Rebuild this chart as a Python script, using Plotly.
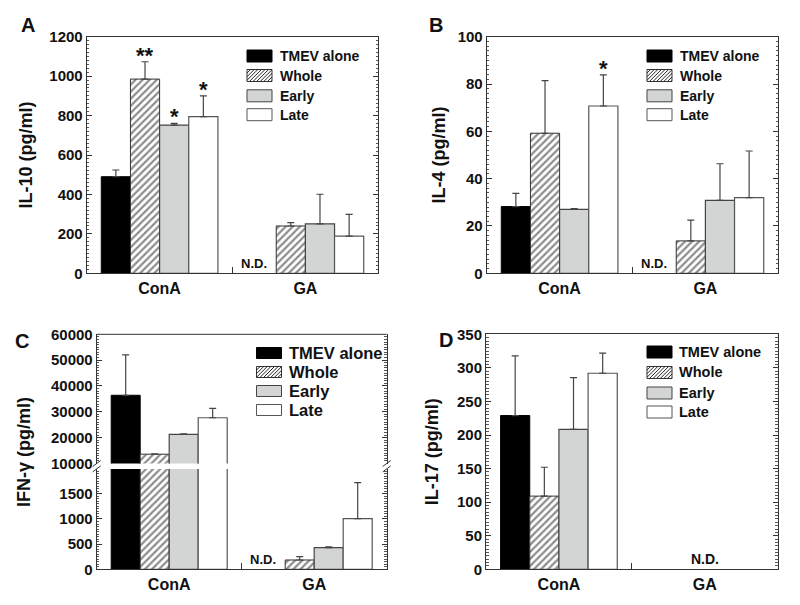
import plotly.graph_objects as go

W, H = 800, 605
FONT = "Liberation Sans, Arial, sans-serif"

groups = ["ConA", "GA"]
series = ["TMEV alone", "Whole", "Early", "Late"]

# Panel A: IL-10 (pg/ml) -- rows follow `series`, columns follow `groups`; None = N.D.
il10_means = [[490, None], [985, 240], [752, 251], [795, 189]]
il10_sd = [[34, None], [88, 17], [8, 150], [105, 110]]
il10_sig = [(1, 0, "**"), (2, 0, "*"), (3, 0, "*")]

# Panel B: IL-4 (pg/ml)
il4_means = [[28.2, None], [59.2, 13.7], [27.0, 30.8], [70.7, 32.0]]
il4_sd = [[5.6, None], [22.2, 8.8], [0.3, 15.5], [13.2, 19.7]]
il4_sig = [(3, 0, "*")]

# Panel C: IFN-gamma (pg/ml)
ifng_means = [[36400, None], [13600, 185], [21300, 430], [27700, 1007]]
ifng_sd = [[15600, None], [150, 67], [200, 14], [3600, 715]]

# Panel D: IL-17 (pg/ml)
il17_means = [[229, None], [109, None], [208.5, None], [292, None]]
il17_sd = [[89, None], [43, None], [77, None], [30, None]]

# not-detected markers: (series index, group index)
il10_nd = [(0, 1)]
il4_nd = [(0, 1)]
ifng_nd = [(0, 1)]


def px(x):
    return x / W


def py(y):
    return 1 - y / H


styles = {
    "TMEV alone": dict(color="black", line=dict(color="black", width=1)),
    "Whole": dict(color="white", line=dict(color="#333", width=1),
                  pattern=dict(shape="/", fgcolor="#1a1a1a", bgcolor="white", size=5, solidity=0.45)),
    "Early": dict(color="#d3d4d4", line=dict(color="#444", width=1.2)),
    "Late": dict(color="white", line=dict(color="#555", width=1.2)),
}

fig = go.Figure()


def add_bars(means, sds, xa, ya):
    for i, s in enumerate(series):
        fig.add_trace(go.Bar(
            x=groups, y=means[i], name=s, marker=styles[s], showlegend=False,
            error_y=dict(type="data", symmetric=False, array=sds[i], arrayminus=[0, 0],
                         color="#444", thickness=1.2, width=3.5),
            xaxis=xa, yaxis=ya))


add_bars(il10_means, il10_sd, "x", "y")
add_bars(il4_means, il4_sd, "x2", "y2")
add_bars(ifng_means, ifng_sd, "x3", "y3")
add_bars(ifng_means, ifng_sd, "x3", "y5")
add_bars(il17_means, il17_sd, "x4", "y4")

tickfont = dict(family=FONT, size=15, color="#111", weight=700)


def xax(x0, x1, anchor, mirror=True):
    return dict(domain=[px(x0), px(x1)], type="category", range=[-0.5, 1.5],
                tickson="boundaries", ticks="inside", ticklen=6, tickcolor="#333",
                showline=True, linecolor="#333", linewidth=1, mirror=mirror,
                showgrid=False, anchor=anchor, automargin=False,
                tickfont=dict(family=FONT, size=16, color="#111", weight=700))


def yax(y0, y1, rng, dtick, minor, anchor, title=None, standoff=10):
    d = dict(domain=[py(y1), py(y0)], range=rng, dtick=dtick, tick0=0,
             tickformat="d", automargin=False,
             ticks="inside", ticklen=5, tickcolor="#333", mirror="ticks",
             showline=True, linecolor="#333", linewidth=1, showgrid=False,
             zeroline=False, anchor=anchor, tickfont=tickfont,
             minor=dict(dtick=minor, ticks="inside", ticklen=2.5, tickcolor="#555", showgrid=False))
    if title:
        d["title"] = dict(text=title, standoff=standoff,
                          font=dict(family=FONT, size=18, color="#111", weight=700))
    return d


fig.update_layout(
    width=W, height=H, margin=dict(l=0, r=0, t=0, b=0, pad=0, autoexpand=False),
    paper_bgcolor="white", plot_bgcolor="white",
    barmode="group", bargap=0.2, bargroupgap=0,
    font=dict(family=FONT, color="#111", weight=700),
    xaxis=xax(86.7, 378.3, "y"),
    yaxis=yax(36.7, 273.3, [0, 1200], 200, 20, "x", "IL-10 (pg/ml)", 12),
    xaxis2=xax(486.7, 778.3, "y2"),
    yaxis2=yax(36.7, 273.3, [0, 100], 20, 2, "x2", "IL-4 (pg/ml)", 7),
    xaxis3=xax(96.7, 386.7, "y3", mirror=False),
    yaxis3=yax(468.9, 569.3, [0, 1995], 500, 50, "x3"),
    yaxis5=yax(334.3, 463.5, [10000, 60000], 10000, 1000, "x3"),
    xaxis4=xax(486.0, 777.7, "y4"),
    yaxis4=yax(334.3, 569.3, [0, 350], 50, 5, "x4", "IL-17 (pg/ml)", 13),
)

ann = []
shapes = []

# panel letters
for letter, x, y in [("A", 28.5, 25), ("B", 435.5, 25), ("C", 21.5, 341), ("D", 446, 340)]:
    ann.append(dict(text=letter, x=px(x), y=py(y), xref="paper", yref="paper",
                    xanchor="center", yanchor="middle", showarrow=False,
                    font=dict(family=FONT, size=20, color="#111", weight=700)))

# y title for the broken-axis panel
ann.append(dict(text="IFN-γ (pg/ml)", x=px(24), y=py(452), xref="paper", yref="paper",
                xanchor="center", yanchor="middle", textangle=-90, showarrow=False,
                font=dict(family=FONT, size=18, color="#111", weight=700)))


def offset(i):
    return (i - 1.5) * 0.2


# significance marks
for sig, means, sds, xa, ya in [(il10_sig, il10_means, il10_sd, "x", "y"),
                                (il4_sig, il4_means, il4_sd, "x2", "y2")]:
    for si, gi, lab in sig:
        ann.append(dict(text=lab, x=gi + offset(si), y=means[si][gi] + sds[si][gi],
                        xref=xa, yref=ya, showarrow=False, xanchor="center",
                        yanchor="bottom", yshift=-8,
                        font=dict(family=FONT, size=22, color="#111", weight=700)))

# N.D. labels
for nd, xa, ya in [(il10_nd, "x", "y"), (il4_nd, "x2", "y2"), (ifng_nd, "x3", "y3")]:
    for si, gi in nd:
        ann.append(dict(text="N.D.", x=gi + offset(si) - 0.05, y=0, xref=xa, yref=ya,
                        showarrow=False, xanchor="center", yanchor="bottom", yshift=0,
                        font=dict(family=FONT, size=13, color="#111", weight=700)))
ann.append(dict(text="N.D.", x=1, y=0, xref="x4", yref="y4", showarrow=False,
                xanchor="center", yanchor="bottom", yshift=0,
                font=dict(family=FONT, size=14, color="#111", weight=700)))


# manual legends
def hatch_path(x0, y0, x1, y1, step=3.6):
    segs = []
    c = x0 + y0 + step
    while c < x1 + y1:
        xa = max(x0, c - y1)
        xb = min(x1, c - y0)
        segs.append(f"M{px(xa):.5f},{py(c - xa):.5f} L{px(xb):.5f},{py(c - xb):.5f}")
        c += step
    return " ".join(segs)


def legend(x0, rows, text_x, size, sw_w=25, sw_h=12):
    for s, yc in zip(series, rows):
        st = styles[s]
        y0, y1 = yc - sw_h / 2, yc + sw_h / 2
        shapes.append(dict(type="rect", xref="paper", yref="paper",
                           x0=px(x0), x1=px(x0 + sw_w), y0=py(y1), y1=py(y0),
                           fillcolor=st["color"], line=dict(color=st["line"]["color"], width=1)))
        if "pattern" in st:
            shapes.append(dict(type="path", xref="paper", yref="paper",
                               path=hatch_path(x0, y0, x0 + sw_w, y1),
                               line=dict(color="#222", width=1)))
        ann.append(dict(text=s, x=px(text_x), y=py(yc), xref="paper", yref="paper",
                        xanchor="left", yanchor="middle", showarrow=False,
                        font=dict(family=FONT, size=size, color="#111", weight=700)))


legend(247, [56, 75.5, 95.8, 114.7], 278, 14)
legend(647, [56, 75.5, 95.8, 114.7], 678, 14)
legend(256.5, [353, 372, 391, 410], 287, 16.5, sw_h=11)
legend(647, [352, 372.5, 393, 412], 677, 14.5)

# broken-axis frame details for panel C
shapes.append(dict(type="line", xref="paper", yref="paper", x0=px(96.7), x1=px(386.7),
                   y0=py(334.3), y1=py(334.3), line=dict(color="#333", width=1)))
for xb in (96.7, 386.7):
    for yb in (463.5, 468.9):
        shapes.append(dict(type="line", xref="paper", yref="paper",
                           x0=px(xb - 4), x1=px(xb + 4), y0=py(yb + 3), y1=py(yb - 3),
                           line=dict(color="#333", width=1)))

fig.update_layout(annotations=ann, shapes=shapes)
fig.write_html("out.html", config={"displayModeBar": False},
               post_script="document.body.style.margin='0px';document.body.style.overflow='hidden';")
